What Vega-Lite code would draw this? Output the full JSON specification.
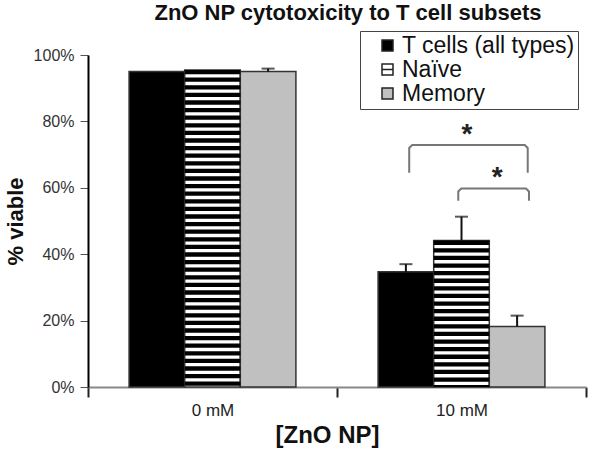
{
  "$schema": "https://vega.github.io/schema/vega-lite/v6.json",
  "width": 498,
  "height": 332,
  "autosize": {"type": "none"},
  "padding": {"left": 88, "top": 55, "right": 14, "bottom": 63},
  "background": "white",
  "config": {"font": "Liberation Sans", "view": {"stroke": null}, "axis": {"grid": false}},
  "title": {"text": "ZnO NP cytotoxicity to T cell subsets", "fontSize": 22, "fontWeight": "bold", "color": "#111", "anchor": "middle", "dx": 11, "offset": 6},
  "datasets": {
    "bars": [
      {"dose": "0 mM", "type": "T cells (all types)", "value": 0.950, "hi": 0.950},
      {"dose": "0 mM", "type": "Naïve", "value": 0.955, "hi": 0.955},
      {"dose": "0 mM", "type": "Memory", "value": 0.950, "hi": 0.959},
      {"dose": "10 mM", "type": "T cells (all types)", "value": 0.347, "hi": 0.370},
      {"dose": "10 mM", "type": "Naïve", "value": 0.441, "hi": 0.513},
      {"dose": "10 mM", "type": "Memory", "value": 0.182, "hi": 0.215}
    ],
    "brackets": [
      {"b": 1, "i": 1, "x": 1.290, "y": 0.645},
      {"b": 1, "i": 2, "x": 1.290, "y": 0.720},
      {"b": 1, "i": 3, "x": 1.302, "y": 0.729},
      {"b": 1, "i": 4, "x": 1.754, "y": 0.729},
      {"b": 1, "i": 5, "x": 1.766, "y": 0.720},
      {"b": 1, "i": 6, "x": 1.766, "y": 0.645},
      {"b": 2, "i": 1, "x": 1.487, "y": 0.561},
      {"b": 2, "i": 2, "x": 1.487, "y": 0.589},
      {"b": 2, "i": 3, "x": 1.499, "y": 0.598},
      {"b": 2, "i": 4, "x": 1.759, "y": 0.598},
      {"b": 2, "i": 5, "x": 1.771, "y": 0.589},
      {"b": 2, "i": 6, "x": 1.771, "y": 0.561}
    ],
    "stars": [
      {"x": 1.522, "y": 0.727, "label": "*"},
      {"x": 1.643, "y": 0.595, "label": "*"}
    ]
  },
  "layer": [
    {
      "data": {"name": "bars"},
      "encoding": {
        "x": {
          "field": "dose", "type": "nominal", "title": "[ZnO NP]",
          "scale": {"paddingInner": 0, "paddingOuter": 0},
          "axis": {"labelAngle": 0, "tickBand": "extent", "domainColor": "#888", "domainWidth": 2, "tickColor": "#222", "tickWidth": 2, "tickSize": 10, "labelFontSize": 17, "labelColor": "#222", "labelPadding": 5, "titleFontSize": 24, "titleFontWeight": "bold", "titleColor": "#111", "titlePadding": 5, "titleX": 239}
        },
        "xOffset": {"field": "type", "type": "nominal", "scale": {"domain": ["T cells (all types)", "Naïve", "Memory"], "paddingInner": 0, "paddingOuter": 0.739}}
      },
      "layer": [
        {
          "mark": {"type": "bar", "stroke": "#333", "strokeWidth": 1.5},
          "encoding": {
            "y": {
              "field": "value", "type": "quantitative", "title": "% viable",
              "scale": {"domain": [0, 1]},
              "axis": {"values": [0, 0.2, 0.4, 0.6, 0.8, 1], "format": ".0%", "domainColor": "#000", "domainWidth": 2, "tickColor": "#555", "tickSize": 8, "tickWidth": 1, "labelFontSize": 16, "labelColor": "#333", "labelPadding": 6, "titleFontSize": 22, "titleFontWeight": "bold", "titleColor": "#111", "titlePadding": 6}
            },
            "fill": {
              "field": "type", "type": "nominal",
              "scale": {"domain": ["T cells (all types)", "Naïve", "Memory"], "range": ["#000000", "#ffffff", "#c0c0c0"]},
              "legend": {
                "orient": "none", "legendX": 272, "legendY": -24, "title": null,
                "labelFontSize": 23, "labelColor": "#111", "labelLimit": 400, "symbolSize": 121,
                "symbolStrokeColor": "#222", "symbolStrokeWidth": 1.5,
                "strokeColor": "#444", "fillColor": "white", "padding": 3, "rowPadding": 0, "symbolOffset": 13, "labelOffset": 3
              }
            }
          }
        },
        {
          "mark": {"type": "point", "filled": true, "opacity": 0, "stroke": "#222", "strokeWidth": 1.5},
          "encoding": {
            "y": {"field": "value", "type": "quantitative"},
            "fill": {"field": "type", "type": "nominal"},
            "shape": {
              "field": "type", "type": "nominal",
              "scale": {"domain": ["T cells (all types)", "Naïve", "Memory"], "range": ["square", "M-1,-1H1V1H-1Z M-1,0H1", "square"]},
              "legend": {
                "orient": "none", "legendX": 272, "legendY": -24, "title": null,
                "labelFontSize": 23, "labelColor": "#111", "labelLimit": 400, "symbolSize": 121,
                "symbolStrokeColor": "#222", "symbolStrokeWidth": 1.5,
                "strokeColor": "#444", "fillColor": "white", "padding": 3, "rowPadding": 0, "symbolOffset": 13, "labelOffset": 3
              }
            }
          }
        },
        {
          "transform": [{"filter": "datum.type === 'Naïve'"}],
          "mark": {"type": "rule", "color": "#000", "strokeWidth": 55.6, "strokeDash": [4.3, 3.3], "strokeCap": "butt"},
          "encoding": {"y": {"field": "value", "type": "quantitative"}, "y2": {"datum": 0}}
        },
        {
          "transform": [{"filter": "datum.hi > datum.value"}],
          "mark": {"type": "rule", "color": "#111", "strokeWidth": 2},
          "encoding": {"y": {"field": "value", "type": "quantitative"}, "y2": {"field": "hi"}}
        },
        {
          "transform": [{"filter": "datum.hi > datum.value"}],
          "mark": {"type": "tick", "color": "#111", "thickness": 2, "size": 13},
          "encoding": {"y": {"field": "hi", "type": "quantitative"}}
        }
      ]
    },
    {
      "layer": [
        {
          "data": {"name": "brackets"},
          "mark": {"type": "line", "color": "#777", "strokeWidth": 2},
          "encoding": {
            "x": {"field": "x", "type": "quantitative", "scale": {"domain": [0, 2], "nice": false, "zero": false}, "axis": null},
            "y": {"field": "y", "type": "quantitative"},
            "detail": {"field": "b"},
            "order": {"field": "i"}
          }
        },
        {
          "data": {"name": "stars"},
          "mark": {"type": "text", "fontSize": 28, "fontWeight": "bold", "color": "#222", "baseline": "alphabetic", "align": "center", "dy": -3},
          "encoding": {
            "x": {"field": "x", "type": "quantitative", "scale": {"domain": [0, 2], "nice": false, "zero": false}, "axis": null},
            "y": {"field": "y", "type": "quantitative"},
            "text": {"field": "label"}
          }
        }
      ]
    }
  ],
  "resolve": {"scale": {"x": "independent"}}
}
